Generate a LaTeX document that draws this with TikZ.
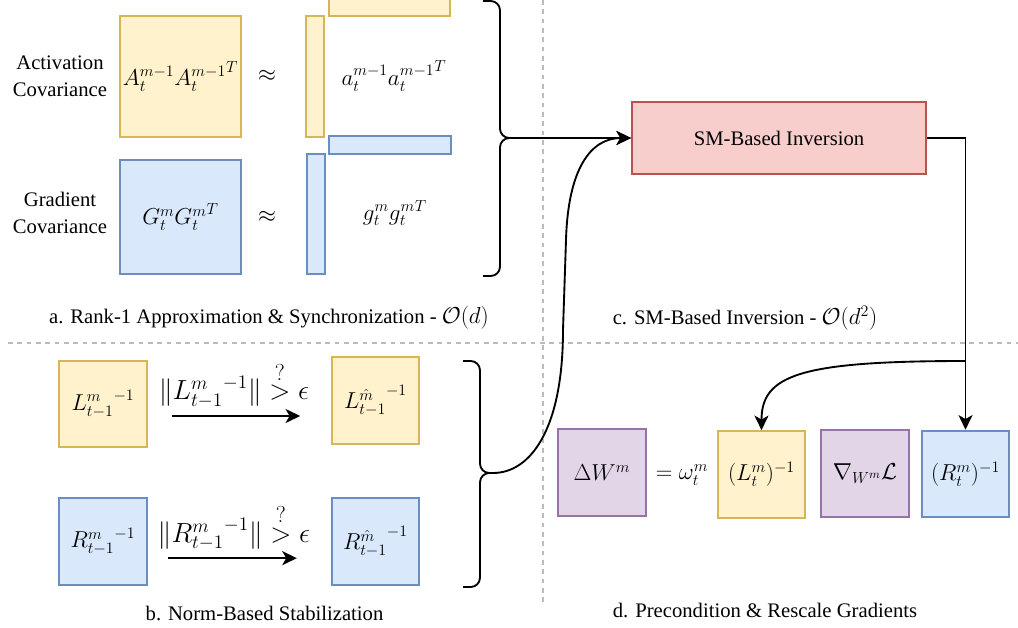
\documentclass[tikz,border=0pt]{standalone}
\usepackage[no-math]{fontspec}
\setmainfont{Liberation Serif}
\usepackage{amsmath, amssymb}
\usepackage{tikz}
\usetikzlibrary{arrows.meta, positioning}

\definecolor{ylwfill}{HTML}{FFF2CC}
\definecolor{ylwline}{HTML}{D6B656}
\definecolor{blufill}{HTML}{DAE8FC}
\definecolor{bluline}{HTML}{6C8EBF}
\definecolor{redfill}{HTML}{F8CECC}
\definecolor{redline}{HTML}{B85450}
\definecolor{prpfill}{HTML}{E1D5E7}
\definecolor{prpline}{HTML}{9673A6}
\definecolor{sepgray}{HTML}{BBBBBB}

\newcommand{\mfs}{\fontsize{18.5}{22}\selectfont}
\newcommand{\qgt}{\overset{\mbox{\fontsize{16}{16}\selectfont$?$}}{>}}

\begin{document}
\begin{tikzpicture}[
    x=0.75pt, y=-0.75pt,
    font=\fontsize{15.5}{20}\selectfont,
    mathtxt/.style={font=\mfs},
    mat/.style={draw, line width=1.4pt, inner sep=0pt, minimum width=65.5pt, minimum height=65pt, mathtxt},
    ylw/.style={mat, fill=ylwfill, draw=ylwline},
    blu/.style={mat, fill=blufill, draw=bluline},
    prp/.style={mat, fill=prpfill, draw=prpline},
    bar/.style={draw, line width=1.4pt, inner sep=0pt},
    line/.style={draw, line width=1.4pt, -{Stealth[length=11pt, width=10.5pt, inset=3pt]}},
    brc/.style={draw, line width=1.4pt, rounded corners=7pt},
    sep/.style={draw=sepgray, line width=0.9pt, dash pattern=on 3.5pt off 3.5pt},
    lbl/.style={align=center},
    cond/.style={anchor=south, inner sep=0pt, yshift=5pt, xshift=-4pt, font=\fontsize{19.5}{23}\selectfont}
]
\useasboundingbox (0,0) rectangle (1018,628);

% Separators
\draw[sep] (543,0) -- (543,602);
\draw[sep] (8,343) -- (1018,343);

% a. Rank-1 approximation
\node[lbl] (actlbl) at (60,76) {Activation\\Covariance};
\node[ylw, minimum width=90.75pt, minimum height=90.75pt] (Abox) at (180.5,76.2) {$A_t^{m-1}{A_t^{m-1}}^T$};
\node[mathtxt] (approxA) at (267,76) {$\approx$};
\node[bar, fill=ylwfill, draw=ylwline, minimum width=13.5pt, minimum height=90.75pt] (abar) at (315,76.2) {};
\node[bar, fill=ylwfill, draw=ylwline, minimum width=90.75pt, minimum height=13.5pt] (atop) at (389.5,6.7) {};
\node[mathtxt] (atext) at (394,76) {$a_t^{m-1}{a_t^{m-1}}^T$};

\node[lbl] (gradlbl) at (60,213) {Gradient\\Covariance};
\node[blu, minimum width=90.75pt, minimum height=85.5pt] (Gbox) at (180.5,217) {$G_t^{m}{G_t^{m}}^T$};
\node[mathtxt] (approxG) at (267,217) {$\approx$};
\node[bar, fill=blufill, draw=bluline, minimum width=13.5pt, minimum height=90pt] (gbar) at (316,214) {};
\node[bar, fill=blufill, draw=bluline, minimum width=91.5pt, minimum height=13.5pt] (gtop) at (390,145) {};
\node[mathtxt] (gtext) at (395,213) {$g_t^{m}{g_t^{m}}^T$};

\node (capA) at (269,318) {a. Rank-1 Approximation \& Synchronization - {\mfs$\mathcal{O}(d)$}};

% c. SM-based inversion
\node[draw=redline, fill=redfill, line width=1.4pt, minimum width=220.5pt, minimum height=54pt] (smbox) at (779,138) {SM-Based Inversion};
\node (capC) at (745,318) {c. SM-Based Inversion - {\mfs$\mathcal{O}(d^2)$}};

% b. Norm-based stabilization
\node[ylw] (Lold) at (103,404) {${L^{m}_{t-1}}^{-1}$};
\node[ylw] (Lnew) at (375.5,400.5) {${L^{\hat{m}}_{t-1}}^{-1}$};
\node[blu] (Rold) at (103,541.5) {${R^{m}_{t-1}}^{-1}$};
\node[blu] (Rnew) at (375.5,541.5) {${R^{\hat{m}}_{t-1}}^{-1}$};

\path[line, shorten <=18pt, shorten >=23pt] ([yshift=-9pt]Lold.east) -- node[cond] {$\|{L^{m}_{t-1}}^{-1}\| \qgt \epsilon$} ([yshift=-9pt]Lold.east -| Lnew.west);
\path[line, shorten <=15.5pt, shorten >=25.5pt] ([yshift=-12.5pt]Rold.east) -- node[cond] {$\|{R^{m}_{t-1}}^{-1}\| \qgt \epsilon$} ([yshift=-12.5pt]Rold.east -| Rnew.west);

\node (capB) at (264.5,613) {b. Norm-Based Stabilization};

% d. Precondition & rescale
\node[prp] (dW) at (602,472.5) {$\Delta W^m$};
\node[mathtxt] (eqw) at (682,475) {$=\omega_t^m$};
\node[ylw] (Lt) at (761.5,474.5) {$(L_t^m)^{-1}$};
\node[prp] (gradL) at (865,473.5) {$\nabla_{W^m}\mathcal{L}$};
\node[blu] (Rt) at (965.5,474) {$(R_t^m)^{-1}$};

\node (capD) at (765,610) {d. Precondition \& Rescale Gradients};

% Braces
\draw[brc] (483,1) -| (500,138) -- (513,138);
\draw[brc] (483,276) -| (500,138) -- (513,138);
\coordinate (tipA) at (513,138);
\draw[brc] (463,361) -| (480,473) -- (493,473);
\draw[brc] (463,587) -| (480,473) -- (493,473);
\coordinate (tipB) at (493,473);

% Paths
\path[line] (tipA) -- (smbox.west);
\path[line] (tipB) .. controls (530,473) and (563,430) .. (563,330) -- (566,240) .. controls (568,170) and (590,138) .. (smbox.west);
\path[line] (smbox.east) -| (Rt.north);
\coordinate (split) at (Rt.north |- 0,361);
\path[line] (split) .. controls (800,361) and (761.5,375) .. (Lt.north);

\end{tikzpicture}
\end{document}
